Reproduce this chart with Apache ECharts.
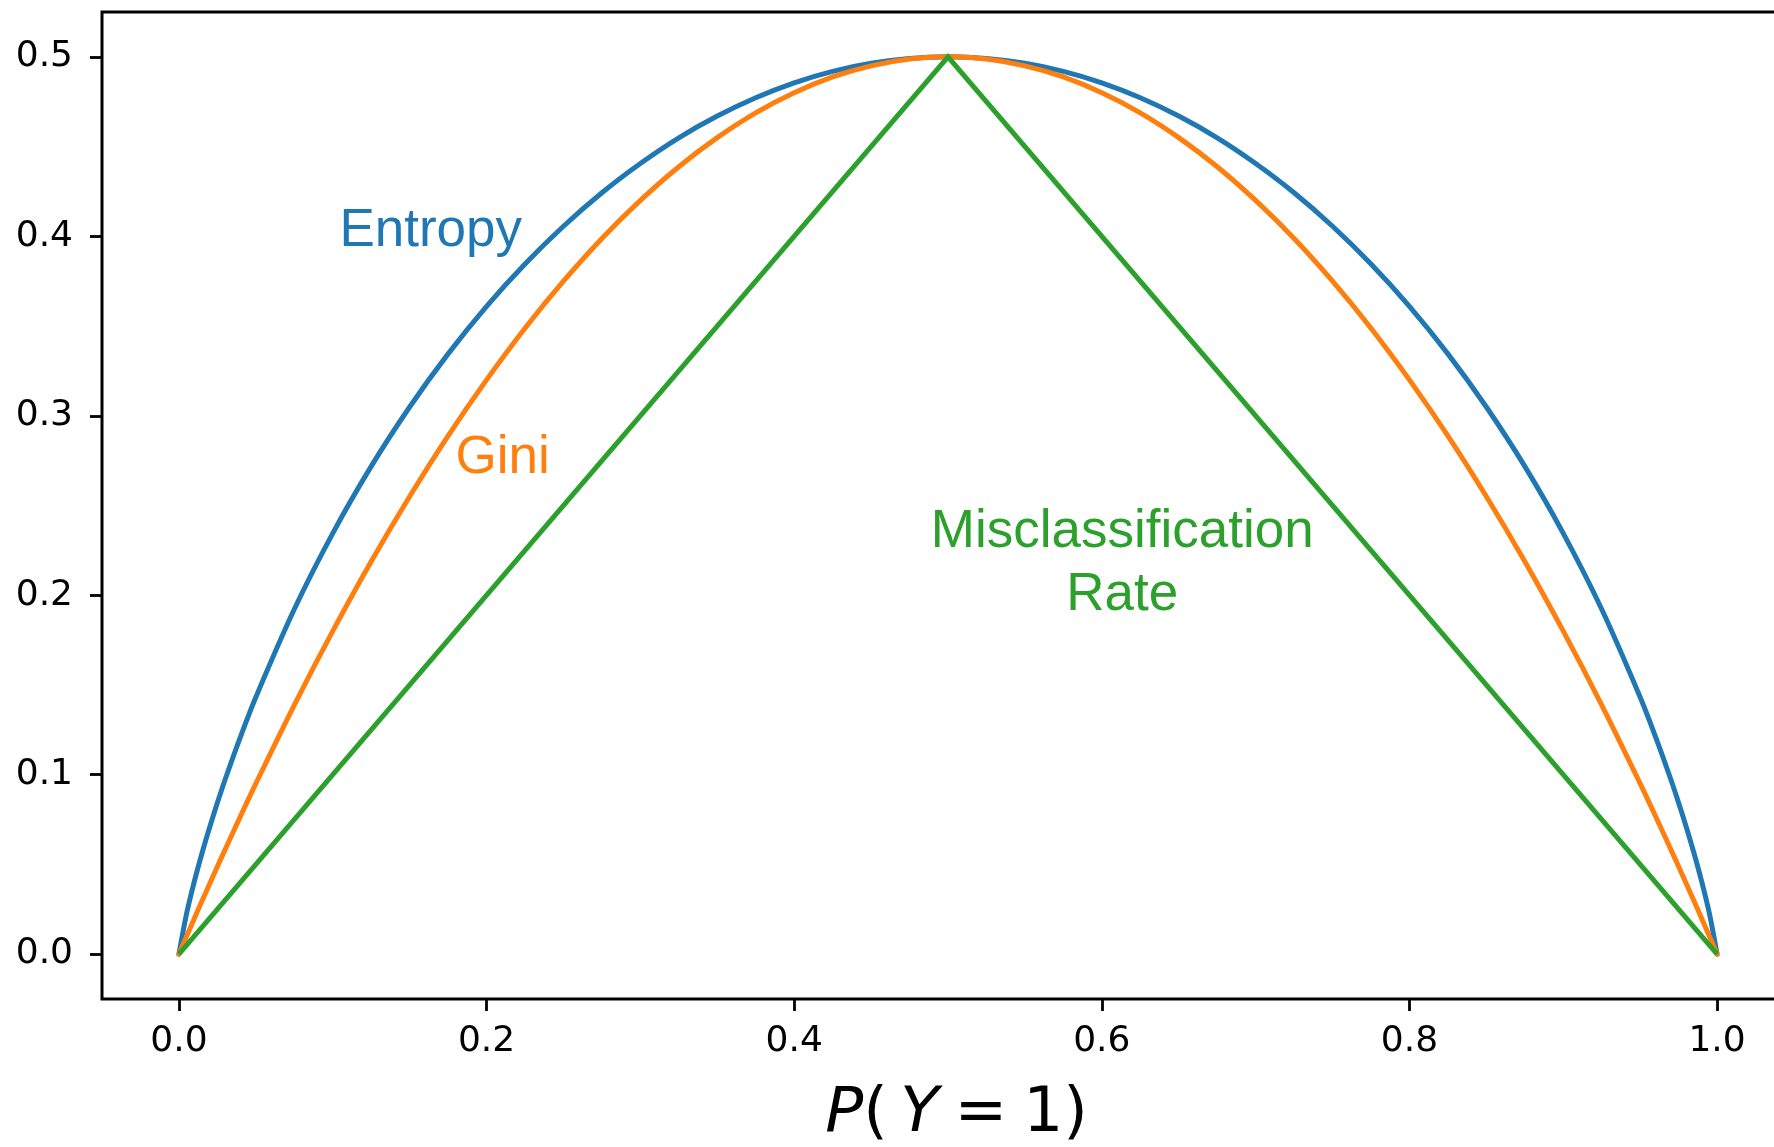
<!DOCTYPE html>
<html>
<head>
<meta charset="utf-8">
<title>Impurity measures</title>
<script src="https://cdn.jsdelivr.net/npm/echarts@6/dist/echarts.min.js"></script>
<style>
  html, body { margin: 0; padding: 0; background: #ffffff; overflow: hidden; }
  #chart { width: 1774px; height: 1147px; }
</style>
</head>
<body>
<div id="chart"></div>
<script>
// P(Y = 1) sample positions
const pValues = [
  0, 0.005, 0.01, 0.015, 0.02, 0.025, 0.03, 0.04, 0.05, 0.075, 0.1, 0.125, 0.15, 0.175,
  0.2, 0.225, 0.25, 0.275, 0.3, 0.325, 0.35, 0.375, 0.4, 0.425, 0.45, 0.475, 0.5,
  0.525, 0.55, 0.575, 0.6, 0.625, 0.65, 0.675, 0.7, 0.725, 0.75, 0.775, 0.8, 0.825,
  0.85, 0.875, 0.9, 0.925, 0.95, 0.96, 0.97, 0.975, 0.98, 0.985, 0.99, 0.995, 1
];

// Entropy (scaled so that the peak is 0.5)
const entropyValues = [
  0, 0.0227, 0.0404, 0.0562, 0.0707, 0.0843, 0.0972, 0.1211, 0.1432, 0.1922, 0.2345, 0.2718, 0.3049, 0.3345,
  0.3610, 0.3846, 0.4056, 0.4243, 0.4406, 0.4549, 0.4670, 0.4772, 0.4855, 0.4919, 0.4964, 0.4991, 0.5,
  0.4991, 0.4964, 0.4919, 0.4855, 0.4772, 0.4670, 0.4549, 0.4406, 0.4243, 0.4056, 0.3846, 0.3610, 0.3345,
  0.3049, 0.2718, 0.2345, 0.1922, 0.1432, 0.1211, 0.0972, 0.0843, 0.0707, 0.0562, 0.0404, 0.0227, 0
];

// Gini impurity
const giniValues = [
  0, 0.0100, 0.0198, 0.0296, 0.0392, 0.0488, 0.0582, 0.0768, 0.0950, 0.1388, 0.1800, 0.2188, 0.2550, 0.2888,
  0.3200, 0.3488, 0.3750, 0.3988, 0.4200, 0.4388, 0.4550, 0.4688, 0.4800, 0.4888, 0.4950, 0.4988, 0.5,
  0.4988, 0.4950, 0.4888, 0.4800, 0.4688, 0.4550, 0.4388, 0.4200, 0.3988, 0.3750, 0.3488, 0.3200, 0.2888,
  0.2550, 0.2188, 0.1800, 0.1388, 0.0950, 0.0768, 0.0582, 0.0488, 0.0392, 0.0296, 0.0198, 0.0100, 0
];

// Misclassification rate (piecewise linear)
const misclassP = [0, 0.5, 1];
const misclassValues = [0, 0.5, 0];

// Tick values
const xTicks = [0, 0.2, 0.4, 0.6, 0.8, 1.0];
const yTicks = [0, 0.1, 0.2, 0.3, 0.4, 0.5];

// Curve names, written next to each curve
const curveNames = ['Entropy', 'Gini', 'Misclassification\nRate'];

const COLORS = ['#1f77b4', '#ff7f0e', '#2ca02c'];
// where each curve name sits, in data coordinates
const namePlacement = [[0.1637, 0.403], [0.2105, 0.2765], [0.6133, 0.2175]];

function pairs(xs, ys) {
  return xs.map((x, i) => [x, ys[i]]);
}

const chart = echarts.init(document.getElementById('chart'), null, { renderer: 'canvas' });

const tickFont = { fontFamily: 'DejaVu Sans', fontSize: 36, color: '#000' };
const lineW = 5;
const mathFont = { fontFamily: 'DejaVu Sans', fontSize: 63, color: '#000' };
const tickStyle = { show: true, length: 12, lineStyle: { color: '#000', width: 2.8 } };

chart.setOption({
  animation: false,
  backgroundColor: '#ffffff',
  grid: {
    left: 102, top: 12, width: 1692, height: 987,
    outerBoundsMode: 'none', containLabel: false,
    show: true, borderColor: '#000', borderWidth: 3, backgroundColor: 'transparent'
  },
  xAxis: {
    type: 'value', min: -0.05, max: 1.05,
    axisLine: { show: false, onZero: false },
    splitLine: { show: false },
    axisTick: { ...tickStyle, customValues: xTicks },
    axisLabel: { ...tickFont, margin: 25, customValues: xTicks, formatter: v => v.toFixed(1) },
    name: '{it|P}{up|(\u2009}{it|Y}{up|\u2005=\u20051)}',
    nameLocation: 'middle',
    nameGap: 84,
    nameTextStyle: {
      padding: [0, 0, 0, 17],
      rich: {
        it: { ...mathFont, fontStyle: 'italic' },
        up: { ...mathFont }
      }
    }
  },
  yAxis: {
    type: 'value', min: -0.025, max: 0.525,
    axisLine: { show: false, onZero: false },
    splitLine: { show: false },
    axisTick: { ...tickStyle, customValues: yTicks },
    axisLabel: { ...tickFont, margin: 29, customValues: yTicks, formatter: v => v.toFixed(1) }
  },
  series: [
    {
      name: 'Entropy', type: 'line', data: pairs(pValues, entropyValues),
      showSymbol: false, smooth: 0.3, z: 2,
      lineStyle: { color: COLORS[0], width: lineW, cap: 'round', join: 'round' }
    },
    {
      name: 'Gini', type: 'line', data: pairs(pValues, giniValues),
      showSymbol: false, smooth: 0.3, z: 3,
      lineStyle: { color: COLORS[1], width: lineW, cap: 'round', join: 'round' }
    },
    {
      name: 'Misclassification Rate', type: 'line', data: pairs(misclassP, misclassValues),
      showSymbol: false, smooth: false, z: 4,
      lineStyle: { color: COLORS[2], width: lineW, join: 'miter' }
    },
    {
      type: 'scatter', symbolSize: 0, silent: true, z: 5,
      itemStyle: { opacity: 1 },
      data: curveNames.map((t, i) => ({
        value: namePlacement[i],
        label: {
          show: true, position: 'inside', formatter: t, opacity: 1,
          fontFamily: 'Liberation Sans', fontSize: 53, lineHeight: 63,
          color: COLORS[i], align: 'center', verticalAlign: 'middle'
        }
      }))
    }
  ]
});
</script>
</body>
</html>
